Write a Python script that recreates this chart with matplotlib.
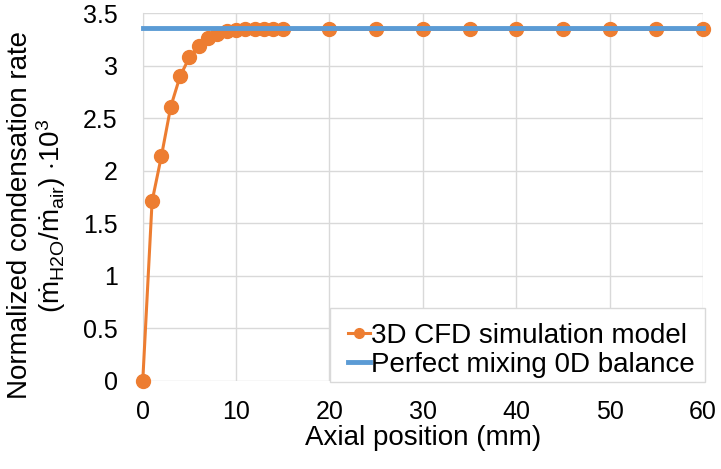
import matplotlib.pyplot as plt
from matplotlib.patches import Rectangle

# Data
axial_mm = [0, 1, 2, 3, 4, 5, 6, 7, 8, 9, 10, 11, 12, 13, 14, 15,
            20, 25, 30, 35, 40, 45, 50, 55, 60]
cfd_rate = [0.0, 1.71, 2.14, 2.61, 2.90, 3.08, 3.19, 3.26, 3.30, 3.33, 3.34, 3.345, 3.345, 3.345, 3.345, 3.345,
            3.345, 3.345, 3.345, 3.345, 3.345, 3.345, 3.345, 3.345, 3.345]
mixing_x = [0, 60]
mixing_rate = [3.36, 3.36]

plt.rcParams["font.family"] = ["Liberation Sans", "DejaVu Sans"]
plt.rcParams["mathtext.fontset"] = "custom"
plt.rcParams["mathtext.rm"] = "Liberation Sans"
plt.rcParams["mathtext.it"] = "Liberation Sans"

fig = plt.figure(figsize=(7.21, 4.69), dpi=100)
ax = fig.add_axes([0.198, 0.188, 0.777, 0.784])

ax.plot(axial_mm, cfd_rate, color="#ED7D31", linewidth=2.2, marker="o",
        markersize=10, label="3D CFD simulation model", zorder=3, clip_on=False)
ax.plot(mixing_x, mixing_rate, color="#5B9BD5", linewidth=3.5,
        label="Perfect mixing 0D balance", zorder=4, clip_on=False)

ax.set_xlim(0, 60)
ax.set_ylim(0, 3.5)
ax.set_xticks(range(0, 61, 10))
ax.set_yticks([0, 0.5, 1, 1.5, 2, 2.5, 3, 3.5])
ax.set_yticklabels(["0", "0.5", "1", "1.5", "2", "2.5", "3", "3.5"])
ax.grid(True, color="#D9D9D9", linewidth=1)
ax.set_axisbelow(True)
ax.tick_params(length=0, labelsize=18)
ax.tick_params(axis="x", pad=14)
ax.tick_params(axis="y", pad=18)
for side in ["top", "right", "bottom"]:
    ax.spines[side].set_visible(False)
ax.spines["left"].set_color("#D9D9D9")

ax.set_xlabel("Axial position (mm)", fontsize=20)
ax.xaxis.set_label_coords(0.5, -0.12)
ax.set_ylabel("Normalized condensation rate\n"
              r"$(\dot{m}_{\mathrm{H2O}}/\dot{m}_{\mathrm{air}})\ {\cdot}10^3$",
              fontsize=20, linespacing=1.05)
ax.yaxis.set_label_coords(-0.133, 0.45)

# legend box as in the original (wider left margin than matplotlib's pad)
ax.add_patch(Rectangle((0.334, -0.002), 0.67, 0.2, transform=ax.transAxes,
                       facecolor="white", edgecolor="#D9D9D9", linewidth=1,
                       clip_on=False, zorder=5))
leg = ax.legend(loc="lower right", bbox_to_anchor=(0.993, -0.003), fontsize=20,
                frameon=False, handlelength=0.8, handletextpad=0.05,
                borderpad=0.15, labelspacing=0.1, borderaxespad=0.0, markerscale=0.7)
leg.set_zorder(6)

fig.savefig("out.png", dpi=100)
